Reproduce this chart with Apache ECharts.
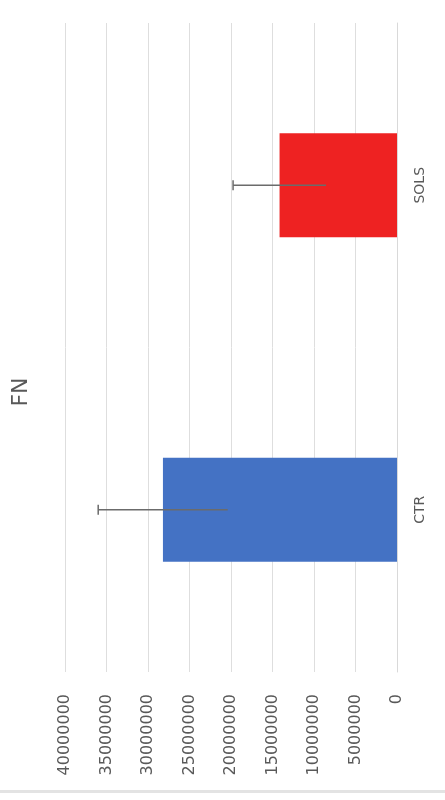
<!DOCTYPE html>
<html>
<head>
<meta charset="utf-8">
<script src="https://cdn.jsdelivr.net/npm/echarts@6/dist/echarts.min.js"></script>
<style>
html,body{margin:0;padding:0;background:#fff;}
#chart{width:445px;height:800px;}
</style>
</head>
<body>
<div id="chart"></div>
<script>
const titleText = 'FN';
const categories = ['CTR', 'SOLS'];
const means = [28200000, 14150000];
const errors = [7800000, 5600000];
const barColors = ['#4472C4', '#EE2222'];
const axisMin = 0;
const axisMax = 40000000;
const axisStep = 5000000;

const chart = echarts.init(document.getElementById('chart'));
const option = {
  animation: false,
  backgroundColor: '#ffffff',
  grid: {left: 65, right: 48, top: 23, bottom: 128},
  graphic: [
    {type: 'text', x: 21, y: 392, rotation: Math.PI / 2,
     style: {text: titleText, font: '22px "DejaVu Sans"', fill: '#595959', textAlign: 'center', textVerticalAlign: 'middle'}},
    {type: 'rect', shape: {x: 0, y: 790, width: 445, height: 3}, style: {fill: '#e3e3e3'}}
  ],
  xAxis: {
    type: 'value', inverse: true, position: 'bottom',
    min: axisMin, max: axisMax, interval: axisStep,
    axisLine: {show: false}, axisTick: {show: false},
    splitLine: {lineStyle: {color: '#dedede', width: 1}},
    axisLabel: {rotate: 90, fontSize: 16, fontFamily: 'DejaVu Sans', color: '#595959', margin: 22,
      formatter: function (v) { return String(v); }}
  },
  yAxis: {
    type: 'category', data: categories, position: 'right',
    axisLine: {show: true, lineStyle: {color: '#d9d9d9'}},
    axisTick: {show: false},
    axisLabel: {rotate: 90, fontSize: 14, fontFamily: 'DejaVu Sans', color: '#595959', margin: 16}
  },
  series: [
    {
      type: 'bar', barWidth: 104,
      data: means.map((v, i) => ({value: v, itemStyle: {color: barColors[i]}}))
    },
    {
      type: 'custom',
      data: means.map((v, i) => [i, v, errors[i]]),
      encode: {x: 1, y: 0},
      z: 5,
      renderItem: function (params, api) {
        const idx = api.value(0), m = api.value(1), e = api.value(2);
        const lo = api.coord([m - e, idx]);
        const hi = api.coord([m + e, idx]);
        const st = {stroke: '#6b6b6b', lineWidth: 1.5};
        return {type: 'group', children: [
          {type: 'line', shape: {x1: lo[0], y1: lo[1], x2: hi[0], y2: hi[1]}, style: st},
          {type: 'line', shape: {x1: hi[0], y1: hi[1] - 5, x2: hi[0], y2: hi[1] + 5}, style: st}
        ]};
      }
    }
  ]
};
chart.setOption(option);
</script>
</body>
</html>
